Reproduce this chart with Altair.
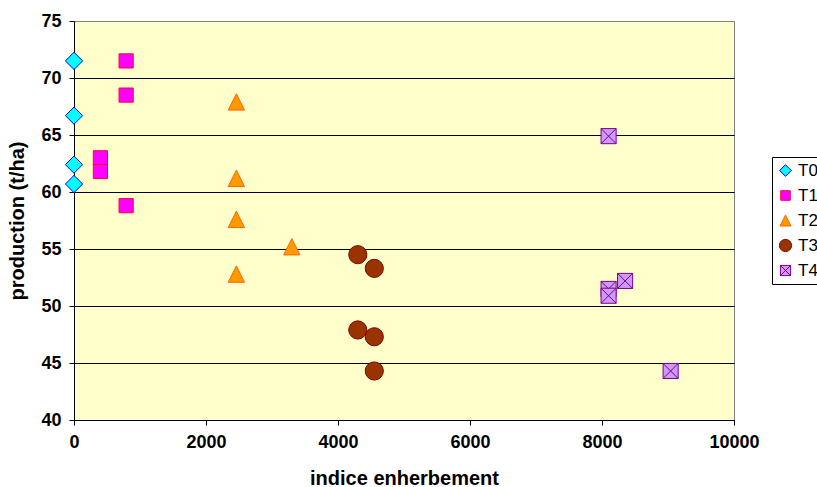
import altair as alt
import pandas as pd

# Treatment groups and their (weed-cover index, yield) measurements
series_names = ["T0", "T1", "T2", "T3", "T4"]

t0_x = [0, 0, 0, 0]
t0_y = [71.5, 66.7, 62.4, 60.7]

t1_x = [400, 400, 790, 790, 790]
t1_y = [63.0, 61.8, 71.5, 68.5, 58.8]

t2_x = [2460, 2460, 2460, 2460, 3300]
t2_y = [67.9, 61.2, 57.6, 52.8, 55.2]

t3_x = [4300, 4550, 4300, 4550, 4550]
t3_y = [54.5, 53.3, 47.9, 47.3, 44.3]

t4_x = [8100, 8100, 8100, 8350, 9040]
t4_y = [64.9, 51.5, 50.9, 52.2, 44.3]

x_ticks = [0, 2000, 4000, 6000, 8000, 10000]
y_ticks = [40, 45, 50, 55, 60, 65, 70, 75]

# Marker styling per treatment (paths in a [-1, 1] unit box)
fills = ["#00FFFF", "#FF00FF", "#FF9900", "#993300", "#CC99FF"]
strokes = ["#0000FF", "#FF0033", "#FF6600", "#800000", "#800080"]
shapes = [
    "M-0.95,0L0,-0.95L0.95,0L0,0.95Z",
    "M-0.78,-0.78H0.78V0.78H-0.78Z",
    "M0,-0.9L0.9,0.9L-0.9,0.9Z",
    "circle",
    "M-0.83,-0.83H0.83V0.83H-0.83Z M-0.83,-0.83L0.83,0.83 M0.83,-0.83L-0.83,0.83",
]

rows = []
for name, xs, ys in zip(series_names,
                        [t0_x, t1_x, t2_x, t3_x, t4_x],
                        [t0_y, t1_y, t2_y, t3_y, t4_y]):
    for xv, yv in zip(xs, ys):
        rows.append({"serie": name, "indice": xv, "production": yv})
df = pd.DataFrame(rows)

font = "Liberation Sans"

legend = alt.Legend(
    title=None,
    orient="none",
    legendX=698,
    legendY=136,
    strokeColor="#000000",
    fillColor="#FFFFFF",
    padding=5,
    symbolSize=150,
    symbolStrokeWidth=1,
    labelFont=font,
    labelFontSize=17,
    labelColor="#000000",
    labelOffset=4,
    rowPadding=7,
)

chart = alt.Chart(df).mark_point(filled=True, opacity=1, strokeWidth=1, size=330).encode(
    x=alt.X(
        "indice:Q",
        scale=alt.Scale(domain=[0, 10000], nice=False),
        axis=alt.Axis(
            title="indice enherbement",
            values=x_ticks,
            grid=False,
            format="d",
            labelFlush=False,
            titlePadding=17,
        ),
    ),
    y=alt.Y(
        "production:Q",
        scale=alt.Scale(domain=[40, 75], nice=False, zero=False),
        axis=alt.Axis(
            title="production (t/ha)",
            values=y_ticks,
            grid=True,
            gridColor=alt.condition("datum.value == 75", alt.value("#808080"), alt.value("#000000")),
            labelFlush=False,
            titlePadding=13,
        ),
    ),
    shape=alt.Shape("serie:N", scale=alt.Scale(domain=series_names, range=shapes), legend=legend),
    fill=alt.Fill("serie:N", scale=alt.Scale(domain=series_names, range=fills), legend=legend),
    stroke=alt.Stroke("serie:N", scale=alt.Scale(domain=series_names, range=strokes), legend=legend),
).properties(
    width=660,
    height=399,
    background="#FFFFFF",
    autosize=alt.AutoSizeParams(type="none"),
    padding={"left": 74, "top": 21, "right": 83, "bottom": 67},
).configure_view(
    fill="#FFFFCC",
    stroke="#808080",
    strokeWidth=1,
).configure_axis(
    domainColor="#000000",
    tickColor="#000000",
    tickSize=5,
    gridWidth=1,
    gridOpacity=1,
    labelFont=font,
    labelFontSize=18,
    labelFontWeight="bold",
    labelColor="#000000",
    labelPadding=8,
    titleFont=font,
    titleFontSize=20,
    titleFontWeight="bold",
    titleColor="#000000",
)

chart.save("out.html", embed_options={"renderer": "svg", "actions": False})
